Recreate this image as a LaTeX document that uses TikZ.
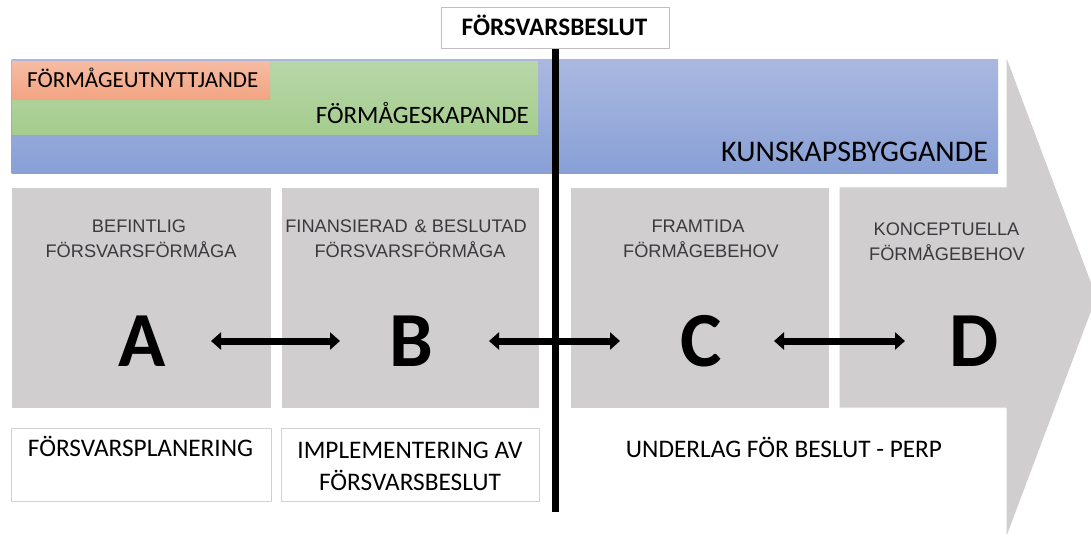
\documentclass[tikz,border=0pt]{standalone}
\usepackage{fontspec}
\setmainfont{Carlito}
\newfontfamily\arialf{Liberation Sans}
\usetikzlibrary{arrows.meta}
\definecolor{grayfill}{RGB}{208,206,206}
\definecolor{boxline}{RGB}{210,210,210}
\definecolor{decline}{RGB}{191,191,191}
\definecolor{titlegray}{RGB}{58,58,62}
\definecolor{blueTop}{RGB}{170,184,224}
\definecolor{blueBot}{RGB}{136,160,214}
\definecolor{greenTop}{RGB}{184,214,168}
\definecolor{greenBot}{RGB}{165,205,142}
\definecolor{orangeTop}{RGB}{246,188,162}
\definecolor{orangeBot}{RGB}{242,164,130}
\begin{document}
\begin{tikzpicture}[x=1pt,y=-1pt,
  graybox/.style={draw=white, line width=0.8pt, fill=grayfill, inner sep=0pt, anchor=north west},
  whitebox/.style={draw=boxline, line width=0.8pt, fill=white, inner sep=0pt, anchor=north west},
  band/.style={inner sep=0pt, anchor=north west},
  bandtext/.style={font=\fontsize{23}{27}\selectfont, inner sep=0pt},
  bottomtext/.style={font=\fontsize{25.3}{28}\selectfont, inner sep=0pt, anchor=base},
  title/.style={font=\arialf\fontsize{18.2}{24}\selectfont, text=titlegray, inner sep=0pt, anchor=base},
  letter/.style={font=\bfseries\fontsize{78}{80}\selectfont, inner sep=0pt},
  dbl/.style={line width=7pt, {Triangle[length=10pt,width=17pt]}-{Triangle[length=10pt,width=17pt]}},
  vline/.style={line width=6.5pt}
]
\useasboundingbox (0,0) rectangle (1091,537);
\fill[white] (0,0) rectangle (1091,537);

% big arrow with box D
\begin{scope}
\clip (0,0) rectangle (1091,537);
\draw[fill=grayfill, draw=white, line width=1pt]
  (839,187) -- (1006,187) -- (1006,55) -- (1097,297) -- (1006,539) -- (1006,408) -- (839,408) -- cycle;
\end{scope}

% bands
\node[band, top color=blueTop, bottom color=blueBot, minimum width=986.5pt, minimum height=114pt] (blue) at (11.5,59.3) {};
\node[band, top color=greenTop, bottom color=greenBot, minimum width=526pt, minimum height=73pt] (green) at (12,61) {};
\node[band, top color=orangeTop, bottom color=orangeBot, minimum width=258pt, minimum height=38pt] (orange) at (12,61) {};
\node[bandtext, anchor=base west] (tOrange) at (27,88) {FÖRMÅGEUTNYTTJANDE};
\node[bandtext, font=\fontsize{25}{28}\selectfont, anchor=base east] (tGreen) at (529,124) {FÖRMÅGESKAPANDE};
\node[bandtext, font=\fontsize{30}{32}\selectfont, anchor=base east] (tBlue) at (988,162) {KUNSKAPSBYGGANDE};

% decision box
\node[draw=decline, line width=0.8pt, fill=white, minimum width=228.3pt, minimum height=41pt, inner sep=0pt, anchor=north west] (dec) at (440.7,7.3) {};
\node[font=\bfseries\fontsize{25.2}{28}\selectfont, inner sep=0pt, anchor=base] (decText) at (554.5,36) {FÖRSVARSBESLUT};

% gray boxes
\node[graybox, minimum width=259.5pt, minimum height=221pt] (boxA) at (11,187) {};
\node[graybox, minimum width=258.5pt, minimum height=221pt] (boxB) at (280.5,187) {};
\node[graybox, minimum width=259pt, minimum height=221pt] (boxC) at (570,187) {};

% titles
\node[title] (tA1) at (139,233) {BEFINTLIG};
\node[title] (tA2) at (141,257) {FÖRSVARSFÖRMÅGA};
\node[title] (tB1) at (406,233) {FINANSIERAD\hspace{2pt} \& BESLUTAD};
\node[title] (tB2) at (410,257) {FÖRSVARSFÖRMÅGA};
\node[title] (tC1) at (698,233) {FRAMTIDA};
\node[title] (tC2) at (701,257) {FÖRMÅGEBEHOV};
\node[title] (tD1) at (946.5,236) {KONCEPTUELLA};
\node[title] (tD2) at (947,260) {FÖRMÅGEBEHOV};

% letters
\node[letter] (A) at (142,341) {A};
\node[letter] (B) at (411,341) {B};
\node[letter] (C) at (701.5,341) {C};
\node[letter] (D) at (974.5,341) {D};

% bottom boxes
\node[whitebox, minimum width=259.5pt, minimum height=73pt] (planA) at (11.2,427.7) {};
\node[whitebox, minimum width=258.5pt, minimum height=73pt] (planB) at (280.5,427.7) {};
\node[bottomtext] (tPlanA) at (140.5,456) {FÖRSVARSPLANERING};
\node[bottomtext] (tPlanB1) at (410,458) {IMPLEMENTERING AV};
\node[bottomtext] (tPlanB2) at (410,490) {FÖRSVARSBESLUT};
\node[bottomtext] (tPerp) at (784,457) {UNDERLAG FÖR BESLUT - PERP};

% decision line
\coordinate (lineEnd) at (554.8,512);
\draw[vline] (dec.south) -- (dec.south |- lineEnd);

% connectors
\draw[dbl, shorten <=69pt, shorten >=71pt] (A.center) -- (B.center);
\draw[dbl, shorten <=78pt, shorten >=81.5pt] (B.center) -- (C.center);
\draw[dbl, shorten <=72.5pt, shorten >=69.5pt] (C.center) -- (D.center);
\end{tikzpicture}
\end{document}
